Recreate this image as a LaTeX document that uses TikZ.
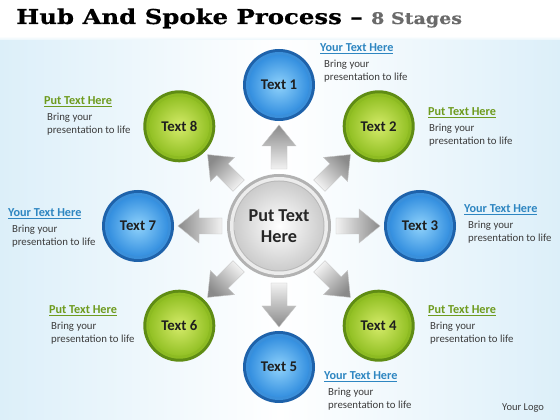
\documentclass[tikz,border=0pt]{standalone}
\usepackage{fontspec}
\setmainfont{Carlito}
\newfontfamily\titlefont[FakeStretch=1.19,FakeBold=0.6]{DejaVu Serif}
\usetikzlibrary{calc}
\definecolor{bluedark}{HTML}{1E62AA}
\definecolor{bluemid}{HTML}{3A8FDA}
\definecolor{bluein}{HTML}{8FD2FB}
\definecolor{blueout}{HTML}{3590E0}
\definecolor{greendark}{HTML}{5F8C14}
\definecolor{greenmid}{HTML}{8DBB22}
\definecolor{greenin}{HTML}{D5EB6A}
\definecolor{greenout}{HTML}{93C125}
\definecolor{hdrblue}{HTML}{2E86C1}
\definecolor{hdrgreen}{HTML}{6E9B1E}
\definecolor{bodygray}{HTML}{3C3C3C}
\definecolor{titlegray}{HTML}{6A6A6A}
\definecolor{bgblue}{HTML}{DCEFF9}
\definecolor{arrowdark}{HTML}{8A8A8A}
\definecolor{arrowlight}{HTML}{F2F2F2}
\tikzset{
  sat/.style={circle, minimum size=72pt, inner sep=0pt, text=black!88,
    font=\fontsize{14.8}{16}\selectfont\bfseries},
  satblue/.style={sat, fill=bluedark,
    path picture={\fill[bluemid] (path picture bounding box.center) circle (33pt);
      \shade[inner color=bluein, outer color=blueout] (path picture bounding box.center) circle (30pt);}},
  satgreen/.style={sat, fill=greendark,
    path picture={\fill[greenmid] (path picture bounding box.center) circle (33pt);
      \shade[inner color=greenin, outer color=greenout] (path picture bounding box.center) circle (30pt);}},
  hubstyle/.style={circle, minimum size=104pt, inner sep=0pt, fill=gray!60, align=center,
    font=\fontsize{18.2}{21.5}\selectfont\bfseries, text=black!85,
    path picture={\fill[gray!15] (path picture bounding box.center) circle (49pt);
      \fill[gray!55] (path picture bounding box.center) circle (45.5pt);
      \shade[inner color=white, outer color=gray!40] (path picture bounding box.center) circle (44.5pt);}},
  hdr/.style={anchor=base west, inner sep=0pt, font=\fontsize{12.2}{14}\selectfont\bfseries},
  hdrb/.style={hdr, text=hdrblue},
  hdrg/.style={hdr, text=hdrgreen},
  bodytxt/.style={anchor=base west, inner sep=0pt, text=bodygray, font=\fontsize{10.8}{13}\selectfont},
  spokeshade/.style={top color=arrowdark, bottom color=arrowlight, draw=gray!45, line width=0.4pt},
}
\newcommand\spoke[1]{%
  \shade[spokeshade, shading angle=#1-90]
   ($(hub)+(#1:57)+(#1+90:8)$) -- ($(hub)+(#1:80)+(#1+90:8)$) --
   ($(hub)+(#1:80)+(#1+90:17)$) -- ($(hub)+(#1:101)$) --
   ($(hub)+(#1:80)+(#1-90:17)$) -- ($(hub)+(#1:80)+(#1-90:8)$) --
   ($(hub)+(#1:57)+(#1-90:8)$) -- cycle;}
\newcommand\lbl[6]{%
  \node[#2] (#1h) at (#3,#4) {\underline{#5}};
  \node[bodytxt] (#1a) at (#6,#4-16) {Bring your};
  \node[bodytxt] (#1b) at (#6,#4-29) {presentation to life};}
\begin{document}
\begin{tikzpicture}[x=1pt,y=1pt]
\useasboundingbox (0,0) rectangle (560,420);
% background
\shade[left color=bgblue, right color=bgblue, middle color=white] (0,0) rectangle (560,383);
\fill[white] (0,383) rectangle (560,420);
\shade[top color=white, bottom color=bgblue!60] (0,380) rectangle (560,384);
% title
\node[anchor=base west, inner sep=0pt] (title) at (16,396)
  {\titlefont\bfseries\fontsize{20.5}{24}\selectfont Hub And Spoke Process – {\color{titlegray}\fontsize{16}{20}\selectfont 8 Stages}};
% hub
\coordinate (hub) at (279,194);
\foreach \a in {90,45,0,-45,-90,-135,180,135} {\spoke{\a}}
\node[hubstyle] (hubnode) at (hub) {Put Text\\Here};
% satellites
\node[satblue]  (s1) at ($(hub)+(90:141)$)   {Text 1};
\node[satgreen] (s2) at ($(hub)+(45:141)$)   {Text 2};
\node[satblue]  (s3) at ($(hub)+(0:141)$)    {Text 3};
\node[satgreen] (s4) at ($(hub)+(-45:141)$)  {Text 4};
\node[satblue]  (s5) at ($(hub)+(-90:141)$)  {Text 5};
\node[satgreen] (s6) at ($(hub)+(-135:141)$) {Text 6};
\node[satblue]  (s7) at ($(hub)+(180:141)$)  {Text 7};
\node[satgreen] (s8) at ($(hub)+(135:141)$)  {Text 8};
% labels
\lbl{l1}{hdrb}{320}{368}{Your Text Here}{324}
\lbl{l2}{hdrg}{428}{304}{Put Text Here}{429}
\lbl{l3}{hdrb}{464}{207}{Your Text Here}{468}
\lbl{l4}{hdrg}{428}{106}{Put Text Here}{430}
\lbl{l5}{hdrb}{324}{40}{Your Text Here}{328}
\lbl{l6}{hdrg}{49}{106}{Put Text Here}{51}
\lbl{l7}{hdrb}{8}{203}{Your Text Here}{12}
\lbl{l8}{hdrg}{44}{315}{Put Text Here}{47}
\node[bodytxt, font=\fontsize{10.5}{12}\selectfont] (logo) at (502,9) {Your Logo};
\end{tikzpicture}
\end{document}
